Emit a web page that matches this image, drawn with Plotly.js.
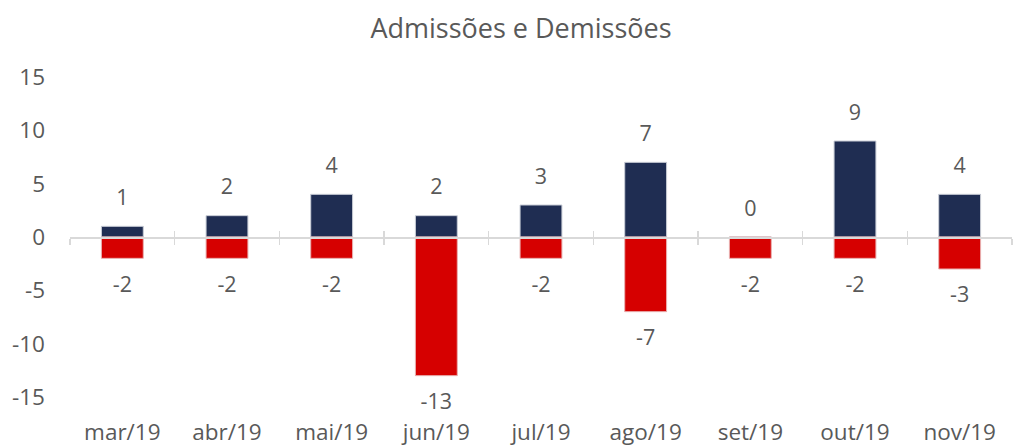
<!DOCTYPE html>
<html>
<head>
<meta charset="utf-8">
<script src="https://cdn.plot.ly/plotly-3.0.1.min.js"></script>
<style>html,body{margin:0;padding:0;background:#fff;}#chart{width:1014px;height:446px;}</style>
</head>
<body>
<div id="chart"></div>
<script>
const categories = ["mar/19","abr/19","mai/19","jun/19","jul/19","ago/19","set/19","out/19","nov/19"];
const admissoes = [1, 2, 4, 2, 3, 7, 0, 9, 4];
const demissoes = [-2, -2, -2, -13, -2, -7, -2, -2, -3];
const yTicks = [-15, -10, -5, 0, 5, 10, 15];

const FONT = "Open Sans, sans-serif";
const GREY = "#595959";
const FS = 22.5;
const LFS = 21.5;
const XR = [-0.5, categories.length - 0.5];

const traces = [
  {type:"bar", x:categories, y:admissoes, name:"Admissões",
   marker:{color:"#1F2D52", line:{color:"#C9CDD6", width:1}}, hoverinfo:"x+y"},
  {type:"bar", x:categories, y:demissoes, name:"Demissões",
   marker:{color:"#D60000", line:{color:"#E8B0B0", width:1}}, hoverinfo:"x+y"},
  {type:"scatter", mode:"markers+text", x:categories, y:admissoes, cliponaxis:false,
   text:admissoes.map(String), textposition:"top center",
   marker:{size:24, color:"rgba(0,0,0,0)"}, textfont:{size:LFS, color:GREY, family:FONT},
   hoverinfo:"skip", showlegend:false},
  {type:"scatter", mode:"markers+text", x:categories, y:demissoes, cliponaxis:false,
   text:demissoes.map(String), textposition:"bottom center",
   marker:{size:26, color:"rgba(0,0,0,0)"}, textfont:{size:LFS, color:GREY, family:FONT},
   hoverinfo:"skip", showlegend:false},
  {type:"scatter", mode:"markers", x:categories, y:categories.map(()=>0), xaxis:"x2",
   marker:{size:1, color:"rgba(0,0,0,0)"}, hoverinfo:"skip", showlegend:false},
  {type:"scatter", mode:"markers", x:categories, y:categories.map(()=>0), xaxis:"x3",
   marker:{size:1, color:"rgba(0,0,0,0)"}, hoverinfo:"skip", showlegend:false}
];

const zeroAxis = (ticks) => ({
  type:"category", categoryarray:categories, range:XR, overlaying:"x", anchor:"free", position:0.5,
  showline:true, linecolor:"#D9D9D9", linewidth:1.5, ticks:ticks, tickson:"boundaries",
  ticklen:6, tickcolor:"#D9D9D9", tickwidth:1.5, showticklabels:false, showgrid:false,
  zeroline:false, fixedrange:true
});

const layout = {
  width:1014, height:446,
  margin:{l:70, r:2, t:77, b:49},
  paper_bgcolor:"#fff", plot_bgcolor:"#fff",
  font:{family:FONT, color:GREY, size:FS},
  title:{text:"Admissões e Demissões", x:521/1014, xanchor:"center", xref:"container",
         y:1-29/446, yanchor:"middle", yref:"container",
         font:{size:27, color:GREY, family:FONT}},
  barmode:"overlay", bargap:0.6,
  showlegend:false,
  xaxis:{type:"category", categoryarray:categories, range:XR, showline:false, ticks:"",
         showgrid:false, zeroline:false, ticklabelstandoff:19,
         tickfont:{size:FS, color:GREY}},
  xaxis2:zeroAxis("outside"),
  xaxis3:zeroAxis("inside"),
  yaxis:{range:[-15,15], tickvals:yTicks, ticktext:yTicks.map(String), showgrid:false,
         zeroline:false, showline:false, ticks:"", ticklabelstandoff:24,
         tickfont:{size:FS, color:GREY}}
};

Plotly.newPlot("chart", traces, layout, {displayModeBar:false, staticPlot:true});
</script>
</body>
</html>
